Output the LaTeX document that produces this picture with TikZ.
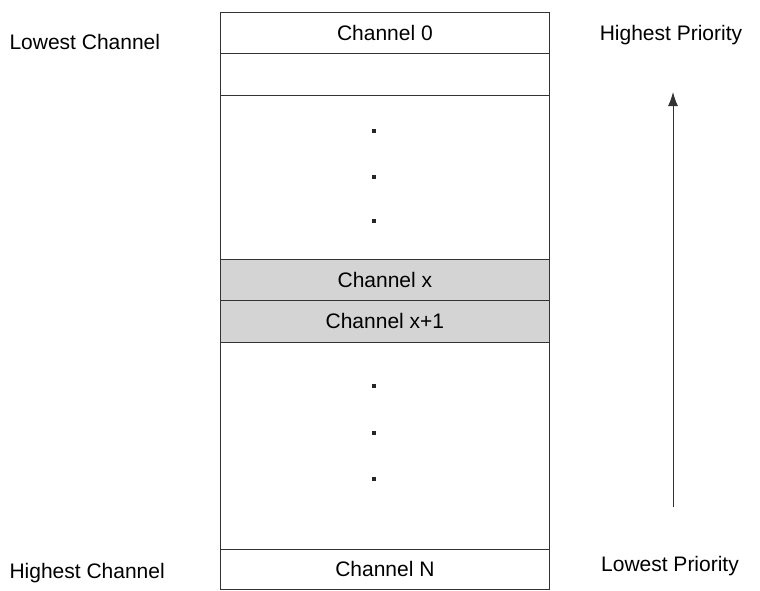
\documentclass[tikz,border=0pt]{standalone}
\usepackage{fontspec}
\setmainfont{Liberation Sans}
\usetikzlibrary{positioning,arrows.meta}
\begin{document}
\begin{tikzpicture}[x=1pt,y=-1pt,
    font=\fontsize{21}{24}\selectfont,
    row/.style={draw=black!80, line width=0.8pt, minimum width=329pt, inner sep=0pt, anchor=north west},
    dot/.style={fill=black!85, rectangle, inner sep=0pt, minimum size=4pt}]
        % Canvas
        \useasboundingbox (0,0) rectangle (760,590);

        % Draw the channel rows
        \node[row, minimum height=41pt] (ch0) at (220,12) {Channel 0};
        \node[row, minimum height=42pt] (blank) at (220,53) {};
        \node[row, minimum height=164pt] (gapA) at (220,95) {};
        \node[row, minimum height=41pt, fill=black!17] (chx) at (220,259) {Channel x};
        \node[row, minimum height=42pt, fill=black!17] (chx1) at (220,300) {Channel x+1};
        \node[row, minimum height=207pt] (gapB) at (220,342) {};
        \node[row, minimum height=40pt] (chN) at (220,549) {Channel N};

        % Dots
        \foreach \y in {131,177,221,386,433,479} {
            \node[dot] at (374,\y) {};
        }

        % Side labels
        \node[anchor=west] (lowch) at (6,42) {Lowest Channel};
        \node[anchor=west] (highch) at (6,573) {Highest Channel};
        \node (highpr) at (671,35) {Highest Priority};
        \node (lowpr) at (670,566) {Lowest Priority};

        % Priority arrow
        \coordinate (arrbot) at (673,507);
        \coordinate (arrtop) at (673,92);
        \draw[-{Latex[length=14pt,width=10pt]}, line width=1pt, black!80] (arrbot) -- (arrtop);
\end{tikzpicture}
\end{document}
